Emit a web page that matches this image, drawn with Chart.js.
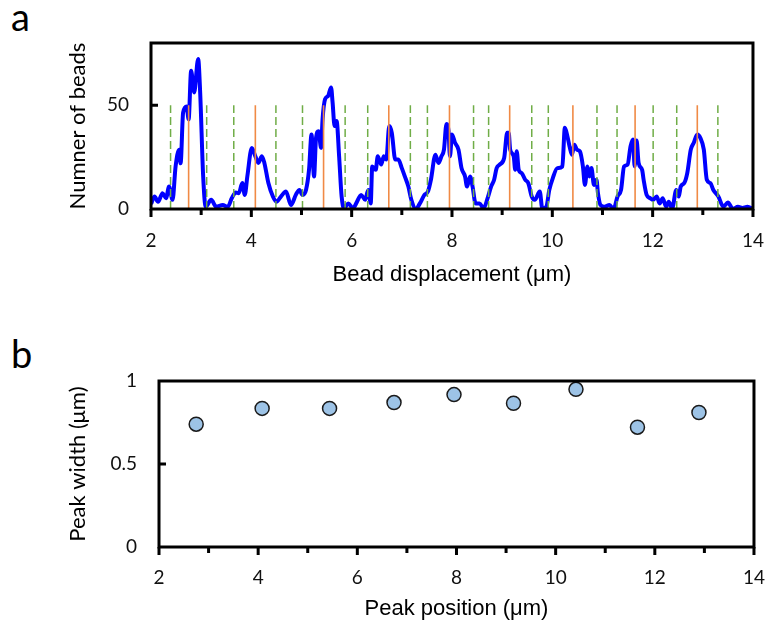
<!DOCTYPE html>
<html>
<head>
<meta charset="utf-8">
<script src="https://cdn.jsdelivr.net/npm/chart.js@4.4.1/dist/chart.umd.min.js"></script>
<style>
  body { margin: 0; background: #fff; width: 784px; height: 629px; position: relative; overflow: hidden; }
  .panel { position: absolute; left: 0; }
  .tag { position: absolute; left: 11px; font-family: Lato, sans-serif; font-size: 38px; line-height: 38px; color: #000; }
</style>
</head>
<body>
<div class="tag" style="top:-3px">a</div>
<div class="tag" style="top:334px">b</div>
<canvas id="histChart" class="panel" style="top:0" width="784" height="300"></canvas>
<canvas id="widthChart" class="panel" style="top:300px" width="784" height="329"></canvas>
<script>
  // bead displacement histogram (panel a)
  const beadX = [2.00, 2.07, 2.14, 2.23, 2.30, 2.36, 2.43, 2.49, 2.56, 2.59, 2.64, 2.71, 2.75, 2.80, 2.86, 2.94, 2.98, 3.04, 3.09, 3.20,
    3.30, 3.43, 3.53, 3.61, 3.69, 3.75, 3.82, 3.87, 3.92, 4.01, 4.08, 4.14, 4.21, 4.26, 4.34, 4.43, 4.50, 4.59, 4.69, 4.79,
    4.89, 4.96, 5.02, 5.09, 5.15, 5.20, 5.25, 5.29, 5.34, 5.39, 5.42, 5.47, 5.53, 5.59, 5.62, 5.66, 5.70, 5.75, 5.80, 5.85,
    5.93, 6.03, 6.09, 6.19, 6.27, 6.33, 6.38, 6.41, 6.48, 6.52, 6.59, 6.64, 6.69, 6.75, 6.80, 6.87, 6.93, 7.00, 7.06, 7.13,
    7.19, 7.28, 7.36, 7.45, 7.52, 7.58, 7.67, 7.73, 7.79, 7.84, 7.89, 7.93, 7.96, 8.00, 8.06, 8.13, 8.19, 8.26, 8.30, 8.36,
    8.41, 8.47, 8.55, 8.63, 8.71, 8.78, 8.84, 8.89, 8.95, 9.04, 9.10, 9.13, 9.16, 9.23, 9.26, 9.29, 9.33, 9.39, 9.46, 9.52,
    9.59, 9.65, 9.75, 9.80, 9.88, 9.94, 10.01, 10.10, 10.20, 10.25, 10.30, 10.35, 10.39, 10.44, 10.49, 10.55, 10.61, 10.65, 10.70, 10.74,
    10.78, 10.83, 10.88, 10.91, 10.96, 11.04, 11.14, 11.22, 11.30, 11.37, 11.43, 11.50, 11.56, 11.61, 11.64, 11.68, 11.72, 11.79, 11.82, 11.88,
    11.95, 12.01, 12.08, 12.14, 12.20, 12.27, 12.32, 12.39, 12.47, 12.52, 12.56, 12.63, 12.69, 12.76, 12.82, 12.89, 12.95, 13.02, 13.08, 13.15,
    13.21, 13.31, 13.41, 13.50, 13.60, 13.70, 13.79, 13.89, 14.00];
  const beadCount = [2.4, 6, 3.5, 7.6, 5.2, 10.8, 4.4, 20.5, 28.6, 22, 46.4, 49.4, 43.2, 66.6, 56.2, 72.3, 56.2, 15.7, 1.1, 4.4,
    1.1, 1.9, 1, 5.2, 7.9, 7.6, 12.5, 6.8, 15.7, 29.4, 25.4, 22.2, 25.4, 22.2, 12.5, 6, 3.5, 6, 8.4, 1.9,
    7, 9.2, 6.8, 9.2, 18.9, 35.9, 15.7, 34.3, 37.5, 29.5, 43.2, 52.9, 54.5, 58.6, 51.3, 40, 42.4, 25.4, 6, 0.3,
    2.7, 0.3, 2.7, 6.8, 4.4, 9.2, 2.7, 20.5, 18.9, 25.4, 21.4, 25.4, 23.8, 40, 36.7, 23.8, 23.8, 19.7, 15.7, 10.8,
    4.4, 0, 2.7, 6.8, 8.4, 14.1, 26.2, 22.2, 25.4, 28.6, 41, 38, 25.4, 35.9, 31.9, 28.6, 19.7, 15.7, 10.8, 15.7,
    10.8, 2.7, 2.7, 0.3, 5.2, 10.8, 14.1, 19.7, 21.4, 24.6, 36.7, 36.7, 28.6, 25.4, 18.9, 27.8, 18.9, 17.3, 14.1, 12.5,
    6, 4.4, 8.4, 0.3, 1.1, 9.2, 14.9, 19.7, 20.5, 39.1, 35.1, 29.5, 26.2, 31, 28.6, 27.8, 20.5, 11.6, 20.5, 15.7,
    19.7, 11.6, 14.1, 7.6, 1.9, 1.1, 1.9, 0, 6, 9.2, 20.5, 21.4, 30.3, 33.5, 20.5, 33, 22.2, 18.9, 14.1, 6.8,
    5.2, 4.4, 6, 2.7, 5.2, 1.1, 3.5, 0.3, 9.2, 6, 10.8, 12.5, 17.3, 28.6, 31.9, 35.9, 34.3, 28.6, 14.1, 12.5,
    9.2, 6, 1.1, 3.1, 0, 1.1, 0.5, 1.1, 0];

  // peak centres (orange) and peak edges (green dashed)
  const peakPositions = [2.75, 4.08, 5.44, 6.74, 7.95, 9.15, 10.41, 11.65, 12.89];
  const peakEdges = [2.39, 3.11, 3.65, 4.49, 5.02, 5.87, 6.32, 7.17, 7.51, 8.43, 8.73, 9.59, 9.92, 10.89, 11.29, 12.01, 12.48, 13.30];
  const markerTop = 50;

  // peak width (panel b)
  const peakWidths = [0.74, 0.835, 0.835, 0.87, 0.918, 0.866, 0.95, 0.722, 0.81];

  // axes
  const xTickLabels = [2, 4, 6, 8, 10, 12, 14];
  const xMinorTicks = [3, 5, 7, 9, 11, 13];
  const histTicks = [0, 50];
  const widthTicks = [0, 0.5, 1];

  const tickFont = { family: 'Lato', size: 19 };
  const yTitleFont = { family: 'Lato', size: 22 };
  const xTitleFont = { family: 'Liberation Sans', size: 22 };

  // black box, outward x ticks, inward y ticks
  const framePlugin = {
    id: 'frame',
    afterDraw(chart, args, opts) {
      const { ctx, chartArea: a, scales: { x, y } } = chart;
      ctx.save();
      ctx.strokeStyle = '#000';
      ctx.lineWidth = 3;
      ctx.strokeRect(a.left, a.top, a.right - a.left, a.bottom - a.top);
      ctx.beginPath();
      opts.major.forEach(v => {
        const px = x.getPixelForValue(v);
        ctx.moveTo(px, a.bottom); ctx.lineTo(px, a.bottom + 8);
      });
      opts.minor.forEach(v => {
        const px = x.getPixelForValue(v);
        ctx.moveTo(px, a.bottom); ctx.lineTo(px, a.bottom + 6);
      });
      opts.yInner.forEach(v => {
        const py = y.getPixelForValue(v);
        ctx.moveTo(a.left, py); ctx.lineTo(a.left + 7, py);
      });
      ctx.stroke();
      ctx.restore();
    }
  };

  function xAxis(title, height, tickPad, titlePad) {
    return {
      type: 'linear', min: 2, max: 14,
      afterBuildTicks: s => { s.ticks = xTickLabels.map(v => ({ value: v })); },
      afterFit: s => { s.height = height; },
      grid: { display: false, drawTicks: false },
      border: { display: false },
      ticks: { font: tickFont, color: '#111', padding: tickPad, maxRotation: 0, callback: v => String(v) },
      title: { display: true, text: title, font: xTitleFont, color: '#000', padding: { top: 0, bottom: titlePad } }
    };
  }

  function yAxis(title, max, ticks, width) {
    return {
      min: 0, max: max,
      afterBuildTicks: s => { s.ticks = ticks.map(v => ({ value: v })); },
      afterFit: s => { s.width = width; },
      grid: { display: false, drawTicks: false },
      border: { display: false },
      ticks: { font: tickFont, color: '#111', padding: 22, callback: v => String(v) },
      title: { display: true, text: title, font: yTitleFont, color: '#000', padding: { top: 65, bottom: 0 } }
    };
  }

  const common = {
    responsive: false,
    animation: false,
    plugins: { legend: { display: false }, tooltip: { enabled: false } }
  };

  const histData = beadX.map((x, i) => ({ x: x, y: beadCount[i] }));

  const datasets = [{
    data: histData,
    borderColor: '#0000ff',
    borderWidth: 4,
    pointRadius: 0,
    cubicInterpolationMode: 'monotone',
    order: 3
  }];
  peakEdges.forEach(p => datasets.push({
    data: [{ x: p, y: 0 }, { x: p, y: markerTop }],
    borderColor: '#70ad47', borderWidth: 1.5, borderDash: [8, 4], pointRadius: 0, order: 2
  }));
  peakPositions.forEach(p => datasets.push({
    data: [{ x: p, y: 0 }, { x: p, y: markerTop }],
    borderColor: '#f08a45', borderWidth: 1.6, pointRadius: 0, order: 1
  }));

  new Chart(document.getElementById('histChart'), {
    type: 'line',
    data: { datasets: datasets },
    options: {
      ...common,
      layout: { padding: { top: 43, right: 15, left: 0, bottom: 0 } },
      scales: {
        x: xAxis('Bead displacement (\u03bcm)', 91, 20, 12),
        y: yAxis('Numner of beads', 80, histTicks, 151)
      },
      plugins: { ...common.plugins, frame: { major: xTickLabels, minor: xMinorTicks, yInner: [50] } }
    },
    plugins: [framePlugin]
  });

  new Chart(document.getElementById('widthChart'), {
    type: 'scatter',
    data: {
      datasets: [{
        data: peakPositions.map((x, i) => ({ x: x, y: peakWidths[i] })),
        backgroundColor: '#9dc3e6',
        borderColor: '#1a1a1a',
        borderWidth: 1.5,
        pointRadius: 7
      }]
    },
    options: {
      ...common,
      layout: { padding: { top: 81, right: 15, left: 0, bottom: 0 } },
      scales: {
        x: xAxis('Peak position (\u03bcm)', 82, 19, 7),
        y: yAxis('Peak width (\u03bcm)', 1, widthTicks, 159)
      },
      plugins: { ...common.plugins, frame: { major: xTickLabels, minor: xMinorTicks, yInner: [0.5] } }
    },
    plugins: [framePlugin]
  });
</script>
</body>
</html>
